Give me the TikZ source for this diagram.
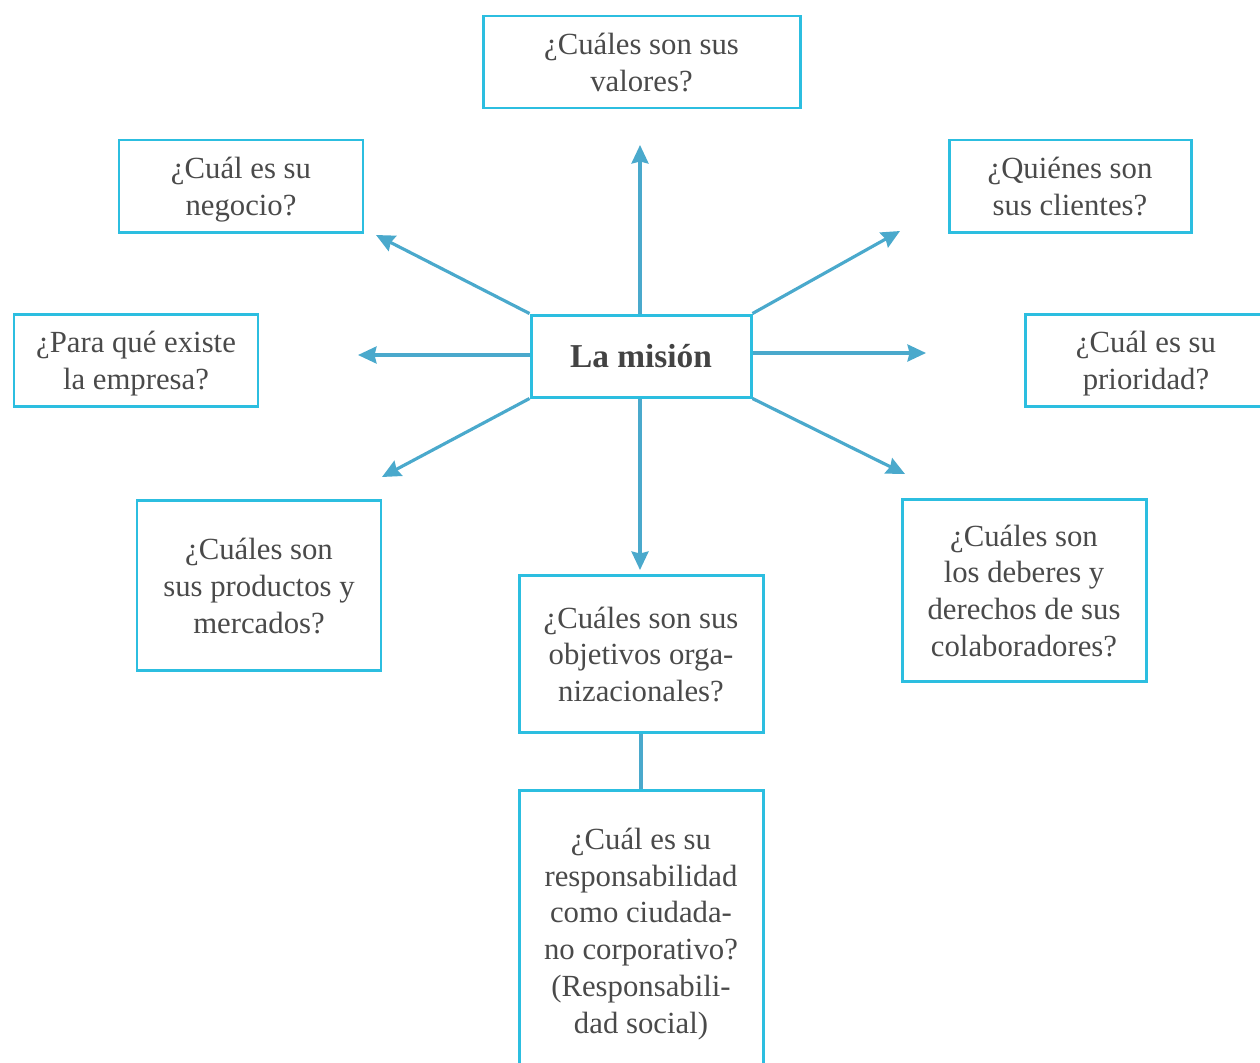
\documentclass[tikz,border=0pt]{standalone}
\usepackage{fontspec}
\setmainfont{Liberation Serif}
\usetikzlibrary{arrows.meta}
\definecolor{boxline}{HTML}{2CBEE0}
\definecolor{arrowline}{HTML}{4AA9CC}
\definecolor{txt}{HTML}{4A4A4A}
% centred lines, set a little below the box centre
\newcommand{\qlines}[1]{\raisebox{-2.3pt}[\height][\depth]{\begin{tabular}{@{}c@{}}#1\end{tabular}}}
\begin{document}
\begin{tikzpicture}[x=0.02cm,y=-0.02cm,
  qbox/.style={draw=boxline,line width=1.7pt,align=center,text=txt,
    font=\fontsize{17.5}{21}\selectfont,inner sep=0pt},
  core/.style={qbox,font=\fontsize{19}{22}\selectfont\bfseries,text=txt!90!black},
  ray/.style={draw=arrowline,line width=1.8pt,
    -{Stealth[length=0.37cm,width=0.34cm,inset=0.04cm]}},
  link/.style={draw=arrowline,line width=1.8pt}]
\useasboundingbox (0,0) rectangle (1260,1062);

% central node
\node[core,minimum width=220*0.02cm,minimum height=82*0.02cm] (mision) at (641,356) {La misión};

% question boxes
\node[qbox,minimum width=317*0.02cm,minimum height=92*0.02cm] (valores) at (641.5,62) {\qlines{¿Cuáles son sus\\valores?}};
\node[qbox,minimum width=244*0.02cm,minimum height=92*0.02cm] (negocio) at (241,186) {\qlines{¿Cuál es su\\negocio?}};
\node[qbox,minimum width=242*0.02cm,minimum height=92*0.02cm] (clientes) at (1070,186) {\qlines{¿Quiénes son\\sus clientes?}};
\node[qbox,minimum width=244*0.02cm,minimum height=92*0.02cm] (existe) at (136,360) {\qlines{¿Para qué existe\\la empresa?}};
\node[qbox,minimum width=242*0.02cm,minimum height=92*0.02cm] (prioridad) at (1146,360) {\qlines{¿Cuál es su\\prioridad?}};
\node[qbox,minimum width=244*0.02cm,minimum height=170*0.02cm] (productos) at (259,585) {\qlines{¿Cuáles son\\sus productos y\\mercados?}};
\node[qbox,minimum width=244*0.02cm,minimum height=157*0.02cm] (objetivos) at (641,653.5) {\qlines{¿Cuáles son sus\\objetivos orga-\\nizacionales?}};
\node[qbox,minimum width=244*0.02cm,minimum height=182*0.02cm] (deberes) at (1024,590) {\qlines{¿Cuáles son\\los deberes y\\derechos de sus\\colaboradores?}};
\node[qbox,minimum width=244*0.02cm,minimum height=280*0.02cm] (social) at (641,930) {\qlines{¿Cuál es su\\responsabilidad\\como ciudada-\\no corporativo?\\(Responsabili-\\dad social)}};

% free ends of the arrows
\coordinate (tUp) at (640,145);
\coordinate (tUL) at (376,235);
\coordinate (tUR) at (900,231);
\coordinate (tL) at (358,355);
\coordinate (tR) at (926,353);
\coordinate (tLL) at (382,477);
\coordinate (tLR) at (905,474);
\coordinate (tDn) at (640,570);

% arrows from the mission box
\draw[ray] (mision.north -| tUp) -- (tUp);
\draw[ray] (mision.north west) -- (tUL);
\draw[ray] (mision.north east) -- (tUR);
\draw[ray] (mision.west |- tL) -- (tL);
\draw[ray] (mision.east |- tR) -- (tR);
\draw[ray] (mision.south west) -- (tLL);
\draw[ray] (mision.south east) -- (tLR);
\draw[ray] (mision.south -| tDn) -- (tDn);

% objectives to social responsibility
\draw[link] (objetivos.south) -- (social.north);
\end{tikzpicture}
\end{document}
